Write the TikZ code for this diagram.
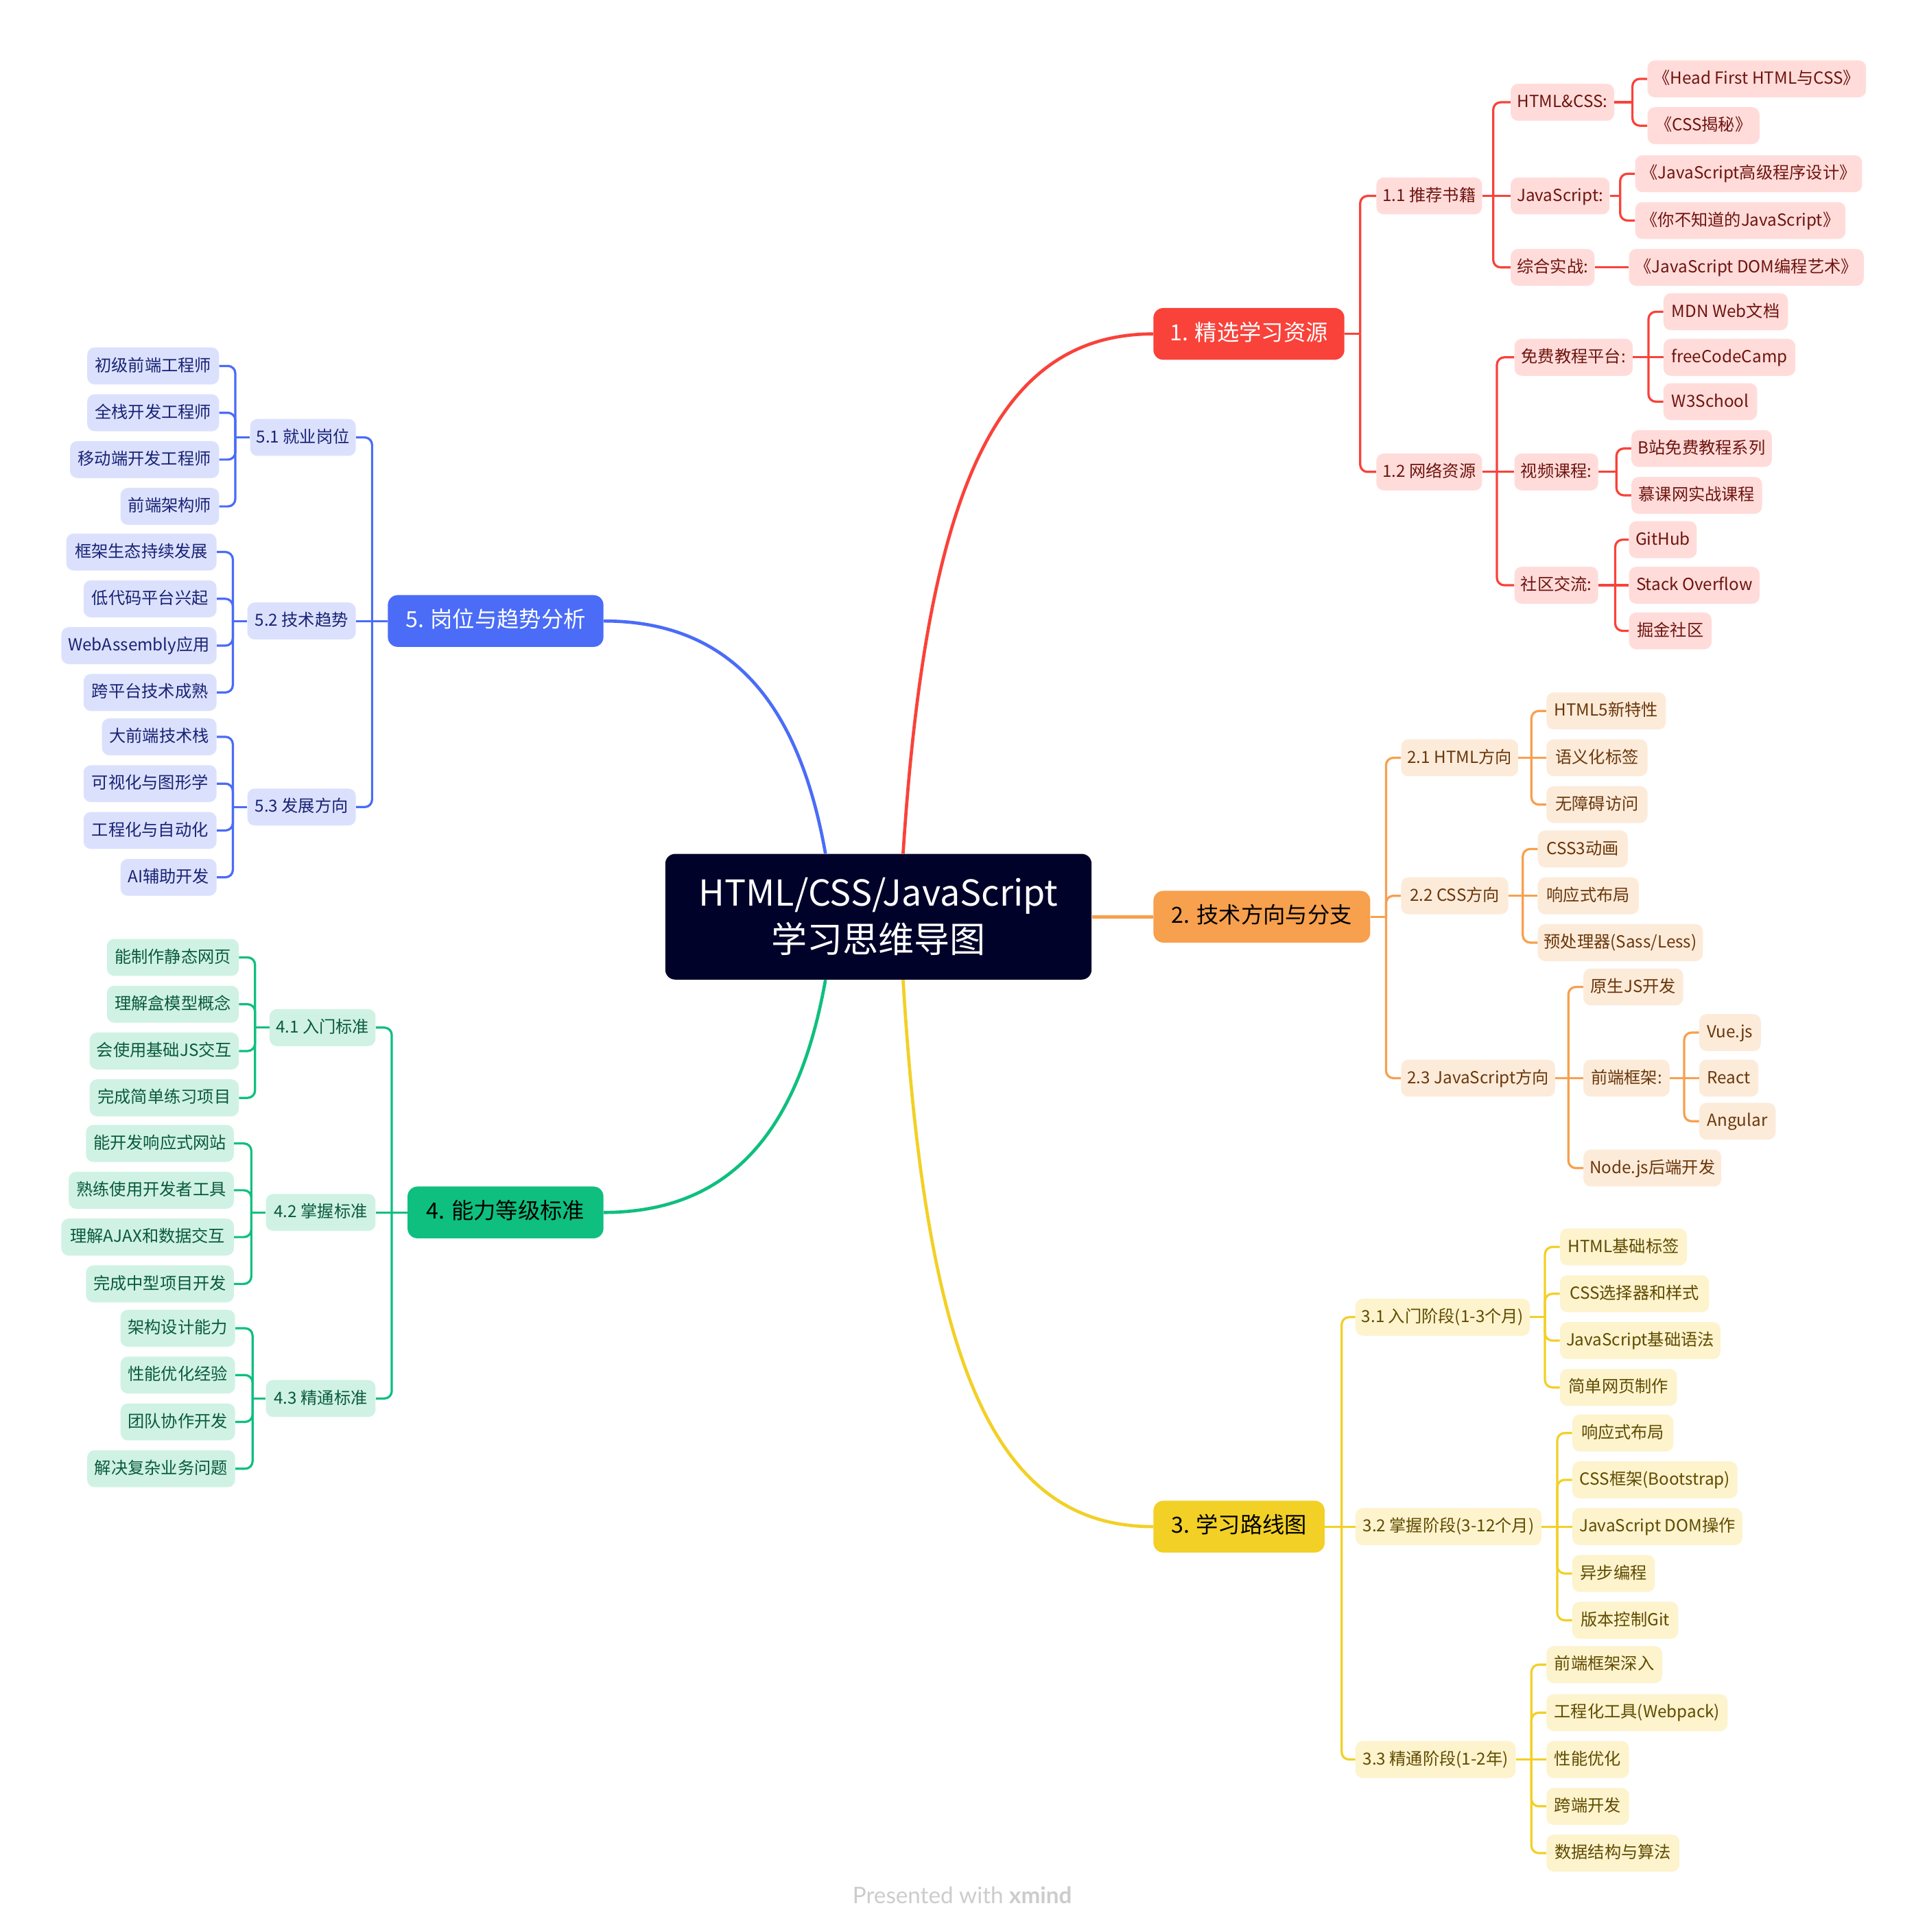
\documentclass[tikz,border=0pt]{standalone}
\usepackage{fontspec}
\setmainfont{Noto Sans CJK SC}
\newfontfamily\footfont{Lato}
\definecolor{cR}{RGB}{249,66,58}
\definecolor{cRl}{RGB}{255,220,218}
\definecolor{cRt}{RGB}{110,20,15}
\definecolor{cO}{RGB}{247,160,78}
\definecolor{cOl}{RGB}{253,235,218}
\definecolor{cOt}{RGB}{105,55,10}
\definecolor{cY}{RGB}{242,208,38}
\definecolor{cYl}{RGB}{253,243,205}
\definecolor{cYt}{RGB}{95,75,0}
\definecolor{cG}{RGB}{15,191,127}
\definecolor{cGl}{RGB}{207,242,228}
\definecolor{cGt}{RGB}{10,90,60}
\definecolor{cB}{RGB}{74,108,247}
\definecolor{cBl}{RGB}{219,225,253}
\definecolor{cBt}{RGB}{25,35,115}
\definecolor{cC}{RGB}{0,2,41}
\definecolor{cF}{RGB}{204,204,204}
\tikzset{
  leafbox/.style={rounded corners=6pt, inner xsep=5pt, inner ysep=0pt, minimum height=30pt,
    text height=11pt, text depth=2.5pt, font=\fontsize{13.5}{16}\selectfont},
  bR/.style={leafbox, fill=cRl, text=cRt},
  bO/.style={leafbox, fill=cOl, text=cOt},
  bY/.style={leafbox, fill=cYl, text=cYt},
  bG/.style={leafbox, fill=cGl, text=cGt},
  bB/.style={leafbox, fill=cBl, text=cBt},
  topicbox/.style={rounded corners=8pt, inner xsep=8pt, inner ysep=0pt, minimum height=42pt,
    text height=14pt, text depth=3.5pt, font=\fontsize{18}{22}\selectfont},
  centerbox/.style={rounded corners=8pt, fill=cC, text=white, minimum width=346pt,
    minimum height=102pt, align=center, font=\fontsize{29}{38}\selectfont},
  connline/.style={line width=1.8pt},
  maincurve/.style={line width=2.6pt},
}
\newcommand\RN[6]{\node[#1,anchor=west,minimum width=#5pt] (#2) at (#3,#4) {#6};}
\newcommand\LN[6]{\node[#1,anchor=east,minimum width=#5pt] (#2) at (#3,#4) {#6};}
\newcommand\RC[4]{%
  \coordinate (sp) at (#3,0);
  \draw[connline,#1] (#2.east) -- (#2.east -| sp);
  \foreach \ch in {#4}{\draw[connline,#1,rounded corners=6pt] (#2.east -| sp) |- (\ch.west);}%
}
\newcommand\LC[4]{%
  \coordinate (sp) at (#3,0);
  \draw[connline,#1] (#2.west) -- (#2.west -| sp);
  \foreach \ch in {#4}{\draw[connline,#1,rounded corners=6pt] (#2.west -| sp) |- (\ch.east);}%
}
\newcommand\SR[3]{\draw[connline,#1] (#2.east) -- (#3.west);}
\newcommand\SL[3]{\draw[connline,#1] (#2.west) -- (#3.east);}
\begin{document}
\begin{tikzpicture}[x=1pt,y=-1pt]
\fill[white] (0,0) rectangle (1564,1568);
\useasboundingbox (0,0) rectangle (1564,1568);

% center
\node[centerbox] (c) at (713,744) {HTML/CSS/JavaScript\\学习思维导图};

% main topics
\RN{topicbox,fill=cR,text=white}{m1}{936}{271}{155}{1. 精选学习资源}
\RN{topicbox,fill=cO,text=black}{m2}{936}{744}{176}{2. 技术方向与分支}
\RN{topicbox,fill=cY,text=black}{m3}{936}{1239}{139}{3. 学习路线图}
\LN{topicbox,fill=cG,text=black}{m4}{490}{984}{159}{4. 能力等级标准}
\LN{topicbox,fill=cB,text=white}{m5}{490}{504}{175}{5. 岗位与趋势分析}

% ---------- branch 1
\RN{bR}{n11}{1117}{159}{83}{1.1 推荐书籍}
\RN{bR}{n12}{1117}{383}{85}{1.2 网络资源}
\RN{bR}{a1}{1226}{83}{84}{HTML\&CSS:}
\RN{bR}{a2}{1226}{159}{76}{JavaScript:}
\RN{bR}{a3}{1226}{217}{68}{综合实战:}
\RN{bR}{b1}{1337}{64}{176}{《Head First HTML与CSS》}
\RN{bR}{b2}{1337}{102}{91}{《CSS揭秘》}
\RN{bR}{b3}{1327}{141}{184}{《JavaScript高级程序设计》}
\RN{bR}{b4}{1327}{179}{170}{《你不知道的JavaScript》}
\RN{bR}{b5}{1322}{217}{189}{《JavaScript DOM编程艺术》}
\RN{bR}{c1}{1229}{290}{96}{免费教程平台:}
\RN{bR}{c2}{1229}{383}{68}{视频课程:}
\RN{bR}{c3}{1229}{475}{68}{社区交流:}
\RN{bR}{d1}{1350}{253}{101}{MDN Web文档}
\RN{bR}{d2}{1350}{290}{107}{freeCodeCamp}
\RN{bR}{d3}{1350}{326}{76}{W3School}
\RN{bR}{d4}{1324}{364}{114}{B站免费教程系列}
\RN{bR}{d5}{1324}{402}{106}{慕课网实战课程}
\RN{bR}{d6}{1322}{438}{55}{GitHub}
\RN{bR}{d7}{1322}{475}{106}{Stack Overflow}
\RN{bR}{d8}{1322}{512}{67}{掘金社区}

% ---------- branch 2
\RN{bO}{e1}{1137}{615}{95}{2.1 HTML方向}
\RN{bO}{e2}{1137}{727}{87}{2.2 CSS方向}
\RN{bO}{e3}{1137}{875}{124}{2.3 JavaScript方向}
\RN{bO}{f1}{1255}{577}{97}{HTML5新特性}
\RN{bO}{f2}{1255}{615}{82}{语义化标签}
\RN{bO}{f3}{1255}{653}{82}{无障碍访问}
\RN{bO}{f4}{1248}{689}{73}{CSS3动画}
\RN{bO}{f5}{1248}{727}{82}{响应式布局}
\RN{bO}{f6}{1248}{765}{134}{预处理器(Sass/Less)}
\RN{bO}{f7}{1285}{801}{81}{原生JS开发}
\RN{bO}{f8}{1285}{875}{70}{前端框架:}
\RN{bO}{f9}{1285}{948}{111}{Node.js后端开发}
\RN{bO}{g1}{1379}{838}{50}{Vue.js}
\RN{bO}{g2}{1379}{875}{48}{React}
\RN{bO}{g3}{1379}{910}{62}{Angular}

% ---------- branch 3
\RN{bY}{h1}{1100}{1069}{141}{3.1 入门阶段(1-3个月)}
\RN{bY}{h2}{1100}{1239}{151}{3.2 掌握阶段(3-12个月)}
\RN{bY}{h3}{1100}{1428}{130}{3.3 精通阶段(1-2年)}
\RN{bY}{i1}{1266}{1012}{103}{HTML基础标签}
\RN{bY}{i2}{1266}{1050}{121}{CSS选择器和样式}
\RN{bY}{i3}{1266}{1088}{130}{JavaScript基础语法}
\RN{bY}{i4}{1266}{1126}{95}{简单网页制作}
\RN{bY}{j1}{1276}{1163}{82}{响应式布局}
\RN{bY}{j2}{1276}{1201}{134}{CSS框架(Bootstrap)}
\RN{bY}{j3}{1276}{1239}{138}{JavaScript DOM操作}
\RN{bY}{j4}{1276}{1277}{67}{异步编程}
\RN{bY}{j5}{1276}{1315}{86}{版本控制Git}
\RN{bY}{k1}{1255}{1351}{94}{前端框架深入}
\RN{bY}{k2}{1255}{1390}{147}{工程化工具(Webpack)}
\RN{bY}{k3}{1255}{1428}{67}{性能优化}
\RN{bY}{k4}{1255}{1466}{67}{跨端开发}
\RN{bY}{k5}{1255}{1504}{108}{数据结构与算法}

% ---------- branch 4
\LN{bG}{l1}{305}{834}{86}{4.1 入门标准}
\LN{bG}{l2}{305}{984}{89}{4.2 掌握标准}
\LN{bG}{l3}{305}{1135}{89}{4.3 精通标准}
\LN{bG}{q1}{194}{777}{107}{能制作静态网页}
\LN{bG}{q2}{194}{815}{107}{理解盒模型概念}
\LN{bG}{q3}{194}{853}{121}{会使用基础JS交互}
\LN{bG}{q4}{194}{891}{121}{完成简单练习项目}
\LN{bG}{q5}{190}{928}{120}{能开发响应式网站}
\LN{bG}{q6}{190}{966}{134}{熟练使用开发者工具}
\LN{bG}{q7}{190}{1004}{140}{理解AJAX和数据交互}
\LN{bG}{q8}{190}{1042}{120}{完成中型项目开发}
\LN{bG}{q9}{191}{1078}{93}{架构设计能力}
\LN{bG}{q10}{191}{1116}{93}{性能优化经验}
\LN{bG}{q11}{191}{1154}{93}{团队协作开发}
\LN{bG}{q12}{191}{1192}{120}{解决复杂业务问题}

% ---------- branch 5
\LN{bB}{p1}{289}{355}{85}{5.1 就业岗位}
\LN{bB}{p2}{289}{504}{88}{5.2 技术趋势}
\LN{bB}{p3}{289}{655}{88}{5.3 发展方向}
\LN{bB}{t1}{178}{297}{107}{初级前端工程师}
\LN{bB}{t2}{178}{335}{107}{全栈开发工程师}
\LN{bB}{t3}{178}{373}{121}{移动端开发工程师}
\LN{bB}{t4}{178}{411}{80}{前端架构师}
\LN{bB}{t5}{176}{448}{122}{框架生态持续发展}
\LN{bB}{t6}{176}{486}{108}{低代码平台兴起}
\LN{bB}{t7}{176}{524}{126}{WebAssembly应用}
\LN{bB}{t8}{176}{562}{108}{跨平台技术成熟}
\LN{bB}{t9}{176}{598}{93}{大前端技术栈}
\LN{bB}{t10}{176}{636}{108}{可视化与图形学}
\LN{bB}{t11}{176}{674}{108}{工程化与自动化}
\LN{bB}{t12}{176}{712}{78}{AI辅助开发}

% ---------- central curves
\draw[maincurve,cR] ([xshift=20pt]c.north) .. controls (752,400) and (808,271) .. (m1.west);
\draw[maincurve,cB] ([xshift=-43pt]c.north) .. controls (650,580) and (600,504) .. (m5.east);
\draw[maincurve,cG] ([xshift=-43pt]c.south) .. controls (650,908) and (600,984) .. (m4.east);
\draw[maincurve,cY] ([xshift=20pt]c.south) .. controls (752,1110) and (808,1239) .. (m3.west);
\draw[maincurve,cO] (c.east) -- (m2.west);

% ---------- connectors branch 1
\RC{cR}{m1}{1104}{n11,n12}
\RC{cR}{n11}{1212}{a1,a3}
\SR{cR}{n11}{a2}
\RC{cR}{a1}{1325}{b1,b2}
\RC{cR}{a2}{1315}{b3,b4}
\SR{cR}{a3}{b5}
\RC{cR}{n12}{1215}{c1,c3}
\SR{cR}{n12}{c2}
\RC{cR}{c1}{1338}{d1,d3}
\SR{cR}{c1}{d2}
\RC{cR}{c2}{1312}{d4,d5}
\RC{cR}{c3}{1311}{d6,d8}
\SR{cR}{c3}{d7}

% ---------- connectors branch 2
\RC{cO}{m2}{1125}{e1,e2,e3}
\RC{cO}{e1}{1243}{f1,f3}
\SR{cO}{e1}{f2}
\RC{cO}{e2}{1236}{f4,f6}
\SR{cO}{e2}{f5}
\RC{cO}{e3}{1273}{f7,f9}
\SR{cO}{e3}{f8}
\RC{cO}{f8}{1367}{g1,g3}
\SR{cO}{f8}{g2}

% ---------- connectors branch 3
\RC{cY}{m3}{1089}{h1,h3}
\SR{cY}{m3}{h2}
\RC{cY}{h1}{1254}{i1,i2,i3,i4}
\RC{cY}{h2}{1264}{j1,j2,j4,j5}
\SR{cY}{h2}{j3}
\RC{cY}{h3}{1243}{k1,k2,k4,k5}
\SR{cY}{h3}{k3}

% ---------- connectors branch 4
\LC{cG}{m4}{318}{l1,l3}
\SL{cG}{m4}{l2}
\LC{cG}{l1}{207}{q1,q2,q3,q4}
\LC{cG}{l2}{204}{q5,q6,q7,q8}
\LC{cG}{l3}{205}{q9,q10,q11,q12}

% ---------- connectors branch 5
\LC{cB}{m5}{302}{p1,p3}
\SL{cB}{m5}{p2}
\LC{cB}{p1}{191}{t1,t2,t3,t4}
\LC{cB}{p2}{189}{t5,t6,t7,t8}
\LC{cB}{p3}{189}{t9,t10,t11,t12}

% footer
\node[text=cF, font=\footfont\fontsize{18.5}{22}\selectfont] (foot) at (781,1538) {Presented with \textbf{xmind}};
\end{tikzpicture}
\end{document}
